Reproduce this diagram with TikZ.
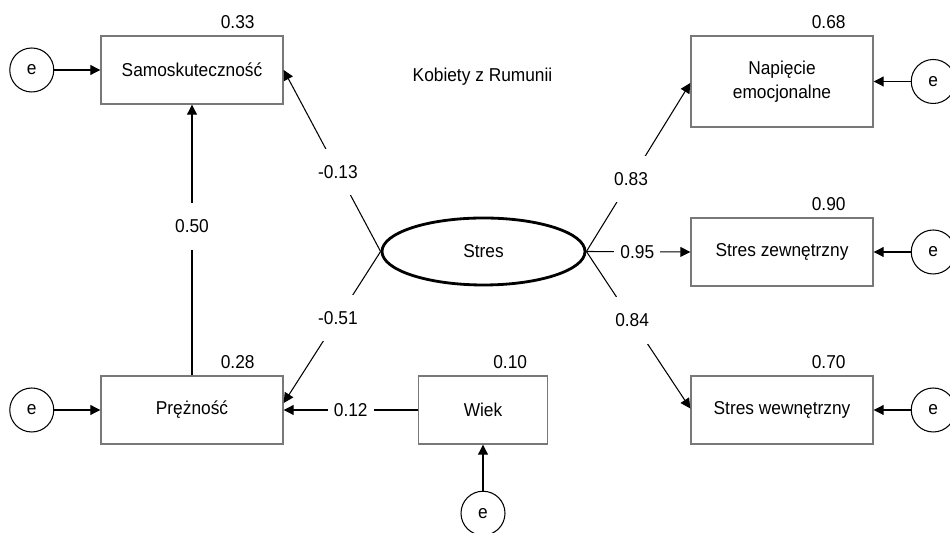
\documentclass[tikz,border=0pt]{standalone}
\usepackage{fontspec}
\setmainfont{Liberation Sans}[FakeStretch=0.93]
\usetikzlibrary{arrows.meta,positioning,calc,shapes.geometric}
\definecolor{boxgray}{RGB}{120,120,120}

\begin{document}
\begin{tikzpicture}[font=\fontsize{10.6pt}{12.5pt}\selectfont,
  var/.style={draw=boxgray,line width=0.8pt,minimum height=1.36cm,minimum width=3.64cm,inner sep=0pt},
  err/.style={draw,circle,line width=0.6pt,minimum size=0.88cm,inner sep=0pt},
  path/.style={line width=0.6pt,-{Triangle[length=0.2cm,width=0.2cm]}},
  coef/.style={fill=white,inner xsep=0.12cm,inner ysep=0.33cm},
  rsq/.style={above,inner sep=0.12cm}]
\useasboundingbox (0,0) rectangle (19,10.66);
\node (title) at (9.65,9.13) {Kobiety z Rumunii};
\node[var] (sam) at (3.84,9.26) {Samoskuteczność};
\node[var] (prez) at (3.84,2.46) {Prężność};
\node[var,minimum width=2.58cm] (wiek) at (9.66,2.46) {Wiek};
\node[draw,ellipse,line width=1.6pt,minimum width=4.06cm,minimum height=1.34cm,inner sep=0pt] (stres) at (9.67,5.63) {Stres};
\node[var,minimum height=1.82cm,align=center] (nap) at (15.64,9.03) {Napięcie\\[1.5pt]emocjonalne};
\node[var] (zew) at (15.64,5.62) {Stres zewnętrzny};
\node[var] (wew) at (15.64,2.46) {Stres wewnętrzny};
% bledy
\node[err,left=0.92cm of sam] (esam) {e};
\node[err,left=0.92cm of prez] (eprez) {e};
\node[err,below=0.92cm of wiek] (ewiek) {e};
\node[err,right=0.74cm of nap] (enap) {e};
\node[err,right=0.74cm of zew] (ezew) {e};
\node[err,right=0.74cm of wew] (ewew) {e};
\draw[path] (esam) -- (sam);
\draw[path] (eprez) -- (prez);
\draw[path] (ewiek) -- (wiek);
\draw[path] (enap) -- (nap);
\draw[path] (ezew) -- (zew);
\draw[path] (ewew) -- (wew);
% sciezki
\draw[path] (prez.north) -- node[coef,pos=0.55] (c50) {0.50} (sam.south);
\draw[path] (wiek.west) -- node[coef,pos=0.5] (c12) {0.12} (prez.east);
\draw[path] (stres.west) -- node[coef,pos=0.44] (c13) {-0.13} (sam.east);
\draw[path] (stres.west) -- node[coef,pos=0.44] (c51) {-0.51} ([yshift=0.14cm]prez.east);
\draw[path] (stres.east) -- node[coef,pos=0.43] (c83) {0.83} ([yshift=-0.03cm]nap.west);
\draw[path] (stres.east) -- node[coef,pos=0.49] (c95) {0.95} (zew.west);
\draw[path] (stres.east) -- node[coef,pos=0.44] (c84) {0.84} ([yshift=0.03cm]wew.west);
% R^2
\node[rsq] (rsam) at ([xshift=-0.92cm]sam.north east) {0.33};
\node[rsq] (rprez) at ([xshift=-0.92cm]prez.north east) {0.28};
\node[rsq] (rwiek) at ([xshift=-0.76cm]wiek.north east) {0.10};
\node[rsq] (rnap) at ([xshift=-0.9cm]nap.north east) {0.68};
\node[rsq] (rzew) at ([xshift=-0.9cm]zew.north east) {0.90};
\node[rsq] (rwew) at ([xshift=-0.9cm]wew.north east) {0.70};
\end{tikzpicture}
\end{document}
